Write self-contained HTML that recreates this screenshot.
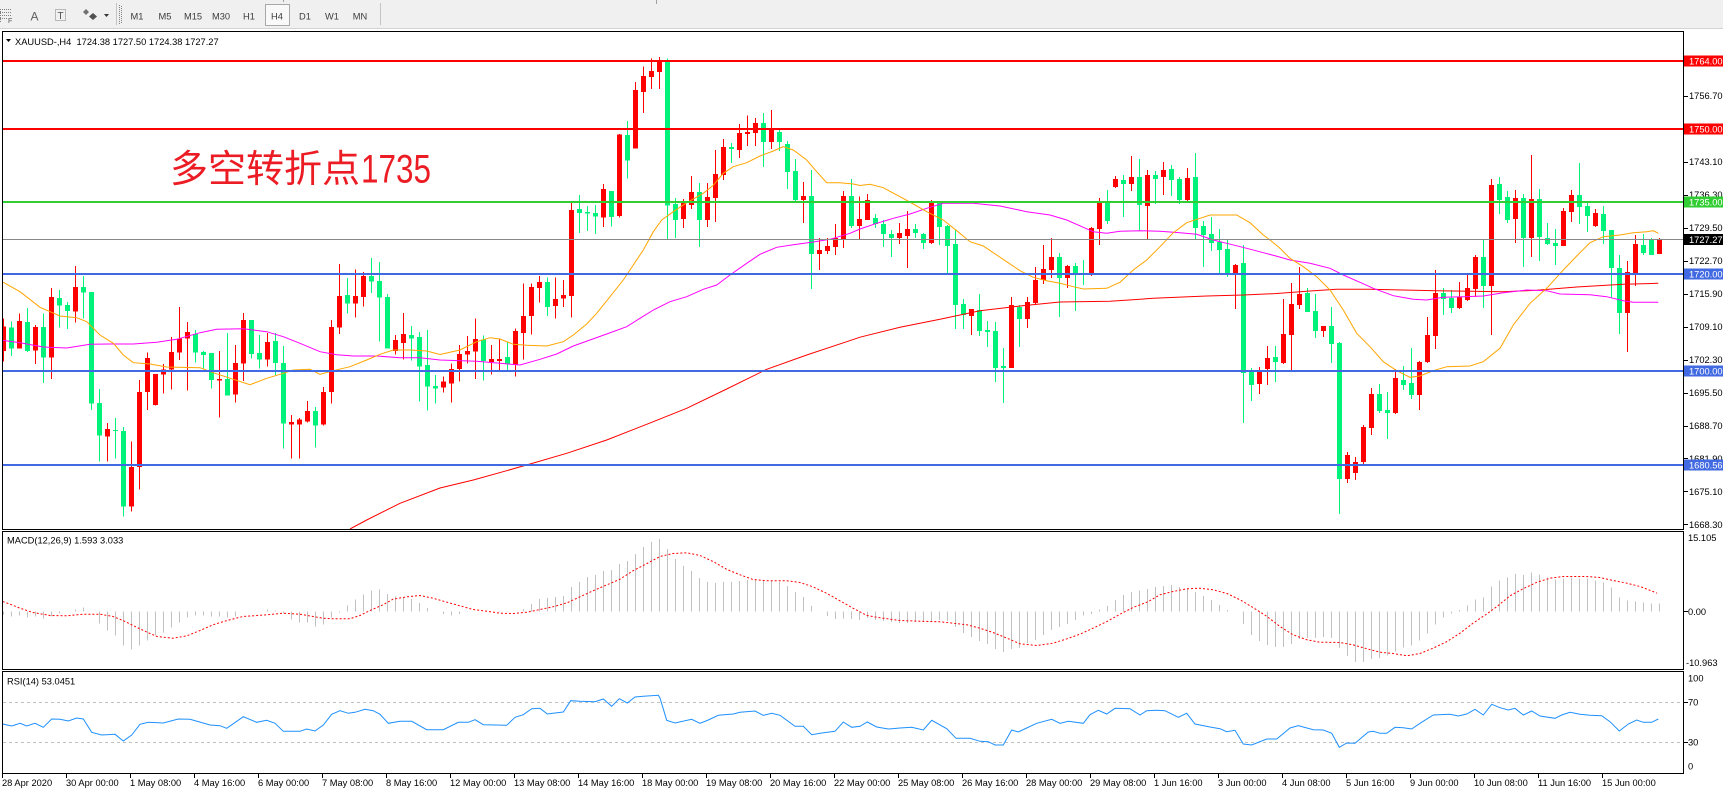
<!DOCTYPE html>
<html><head><meta charset="utf-8">
<style>
html,body{margin:0;padding:0;width:1723px;height:794px;overflow:hidden;background:#fff;}
svg{display:block;}
text{font-family:"Liberation Sans",sans-serif;}
</style></head><body>
<svg id="c" width="1723" height="794" xmlns="http://www.w3.org/2000/svg">
<defs>
<clipPath id="cpMain"><rect x="3" y="32" width="1680" height="497"/></clipPath>
<clipPath id="cpMacd"><rect x="3" y="532" width="1680" height="137"/></clipPath>
<clipPath id="cpRsi"><rect x="3" y="672" width="1680" height="101"/></clipPath>
</defs>
<rect x="0" y="0" width="1723" height="794" fill="#fff"/>
<!-- toolbar -->
<rect x="0" y="0" width="1723" height="29" fill="#f0f0f0"/>
<line x1="0" y1="28.5" x2="1723" y2="28.5" stroke="#d4d4d4"/>
<g stroke="#808080" stroke-dasharray="1,1" shape-rendering="crispEdges">
<line x1="0" y1="9.5" x2="11" y2="9.5"/><line x1="0" y1="12.5" x2="11" y2="12.5"/>
<line x1="0" y1="15.5" x2="11" y2="15.5"/><line x1="0" y1="18.5" x2="7" y2="18.5"/>
<line x1="0.5" y1="9" x2="0.5" y2="22"/>
<rect x="55.5" y="9.5" width="10" height="11" fill="none"/>
<line x1="119.5" y1="5" x2="119.5" y2="24"/><line x1="121.5" y1="6" x2="121.5" y2="24"/>
</g>
<text x="8" y="23" font-size="7" fill="#555">F</text>
<text x="30.5" y="20.5" font-size="12" fill="#606060">A</text>
<text x="57.5" y="19" font-size="10" fill="#505050">T</text>
<path d="M86 9 L89 12 L86 15 L83 12 Z" fill="#707070"/>
<path d="M93 13 L97 16.5 L93 20 L89 16.5 Z" fill="#505050"/>
<path d="M104 14 L109 14 L106.5 17 Z" fill="#333"/>
<line x1="116.5" y1="3" x2="116.5" y2="25" stroke="#c4c4c4"/>
<line x1="380.5" y1="3" x2="380.5" y2="25" stroke="#c4c4c4"/>
<line x1="283.5" y1="0" x2="283.5" y2="2" stroke="#a0a0a0"/>
<line x1="656.5" y1="0" x2="656.5" y2="4" stroke="#a0a0a0"/>
<rect x="265.5" y="4.5" width="24" height="21" fill="#f9f9f9" stroke="#a8a8a8"/>
<g font-size="9.3" fill="#3c3c3c" text-anchor="middle">
<text x="137" y="19.5">M1</text><text x="165" y="19.5">M5</text><text x="193" y="19.5">M15</text>
<text x="221" y="19.5">M30</text><text x="249" y="19.5">H1</text><text x="277" y="19.5">H4</text>
<text x="305" y="19.5">D1</text><text x="332" y="19.5">W1</text><text x="360" y="19.5">MN</text>
</g>

<!-- main panel content -->
<g clip-path="url(#cpMain)">
<g id="candles" shape-rendering="crispEdges"></g>
<polyline fill="none" stroke="#ff0000" stroke-width="1" points="350,529 366.7,520 400,503.3 440,488 473.3,480 506.7,470.7 530,464 566.7,453.3 606.7,440 646.7,424.3 686.7,408.3 726.7,389 766.7,369.3 806.7,355 846.7,341.7 860,337.2 900,327.3 940,319.3 980,310.7 1020,306 1060,302 1110,301.3 1153.3,298.3 1206.7,296 1243.3,295 1275,293.6 1310,291 1336.7,289.3 1370,289.3 1436.7,290.7 1503.3,291.7 1536.7,290.3 1576.7,287 1623.3,284.3 1658.3,283.3"/>
<polyline fill="none" stroke="#ff00ff" stroke-width="1" points="2.7,340.3 20,342.7 43.3,347 66.7,348 90,344.3 110,344 133.3,344 156.7,342.3 176.7,339.3 200,332.7 216.7,329.3 243.3,328.7 266.7,331.7 283.3,336.7 300,343.3 320,351.7 336.7,354.7 353.3,356 376.7,356 400,357.7 420,357.7 440,360 476.7,361.3 500,363.3 520,365 540,359.3 556.7,354 573.3,346 590,340 606.7,334 626.7,326.7 640,318.3 653.3,310 670,301.7 686.7,296.7 703.3,289.3 716.7,285 730,275 746.7,263.3 760,254.3 776.7,247.3 793.3,244.7 813.3,242 830,239.3 850,233.3 860,229 876.7,223.3 893.3,218.3 910,214 926.7,208.3 943.3,203.3 973.3,203.3 1000,206 1026.7,211.7 1050,215 1066.7,220 1083.3,227.3 1093.3,231.7 1106.7,233.3 1120,231.3 1140,230.7 1160,231.3 1180,232.7 1196.7,234.3 1213.3,240 1226.7,243.3 1246.7,248.3 1263.3,252.7 1276,256 1290,260 1310,263.3 1330,268.3 1343.3,275 1360,282.3 1373.3,288.3 1393.3,295.7 1413.3,299.3 1426.7,300 1443.3,297.3 1463.3,296.7 1483.3,296 1503.3,292.7 1526.7,290 1546.7,290.7 1560,294 1590,294.7 1606.7,296.7 1623.3,300.7 1633.3,302.3 1658.3,302.3"/>
<polyline fill="none" stroke="#ffa500" stroke-width="1" points="2.7,282 20,291.7 40,307.3 60,316 76.7,317.7 86.7,321.7 100,335 113.3,343.3 123.3,355 133.3,362.7 150,364 166.7,367 200,367.7 213.3,372.7 233.3,379.3 250,384.7 266.7,378.3 283.3,373.3 293.3,370 310,369.3 320,374.3 333.3,370.7 350,366.7 366.7,360 380,354.3 393.3,350 410,350 426.7,351 440,354.5 460,350 476.7,341.7 490,337.7 500,339 513.3,344.3 526.7,345.3 546.7,346 563.3,341.7 573.3,335 586.7,324 596.7,313.3 610,296.7 623.3,280 633.3,265 643.3,250 653.3,231.7 661.7,220 673.3,211.7 686.7,202.7 703.3,193.3 713.3,185.3 723.3,173.3 733.3,166.7 746.7,162.7 760,156 773.3,151 783.3,146.7 793.3,150 806.7,160 816.7,171.7 826.7,182.7 840,182.7 853.3,184 860,185.5 870,184.3 883.3,187.7 900,196.7 913.3,204 926.7,211.7 943.3,220 956.7,230.7 970,241.7 983.3,246 996.7,255 1006.7,261.7 1020,270.7 1033.3,277.3 1046.7,280.7 1060,283.3 1073.3,286.7 1083.3,289 1106.7,288.3 1120,282.3 1133.3,270 1146.7,260 1160,246.7 1173.3,232.7 1186.7,222.7 1200,218.3 1210,215 1236.7,215 1250,222.7 1263.3,235 1270,240 1280,248.3 1290,258.3 1303.3,266.7 1316.7,276.7 1330,290 1343.3,310 1356.7,333.3 1370,346.7 1383.3,361.7 1396.7,370.7 1410,377.3 1420,376 1433.3,370.7 1446.7,366.7 1470,366 1483.3,361.7 1500,348.3 1513.3,325 1530,303.3 1546.7,288.3 1563.3,270 1576.7,256 1590,242.7 1603.3,236.7 1620,235 1633.3,232.7 1646.7,231.7 1653.3,230.7 1658.3,233.3"/>
<g shape-rendering="crispEdges">
<rect x="3" y="60" width="1680" height="2" fill="#ff0000"/>
<rect x="3" y="128" width="1680" height="2" fill="#ff0000"/>
<rect x="3" y="201" width="1680" height="2" fill="#32cd32"/>
<rect x="3" y="239" width="1680" height="1" fill="#888888"/>
<rect x="3" y="273" width="1680" height="2" fill="#4169e1"/>
<rect x="3" y="370" width="1680" height="2" fill="#4169e1"/>
<rect x="3" y="464" width="1680" height="2" fill="#4169e1"/>
</g>
</g>
<text x="170" y="182" font-size="38" fill="#ec1c24" font-family="'Liberation Sans','Noto Sans CJK SC',sans-serif">多空转折点</text>
<text x="361" y="182.5" font-size="40" fill="#ec1c24" textLength="70" lengthAdjust="spacingAndGlyphs">1735</text>

<path d="M6 39 L11 39 L8.5 42 Z" fill="#000"/>
<text x="15" y="45" font-size="9.3" fill="#000">XAUUSD-,H4&#160;&#160;1724.38 1727.50 1724.38 1727.27</text>

<!-- MACD -->
<g clip-path="url(#cpMacd)">
<g id="hist" shape-rendering="crispEdges"></g>
<polyline id="sig" fill="none" stroke="#ff0000" stroke-width="1" stroke-dasharray="2,2" points=""/>
</g>
<text x="7" y="543.5" font-size="9.3" fill="#000">MACD(12,26,9) 1.593 3.033</text>

<!-- RSI -->
<g clip-path="url(#cpRsi)">
<line x1="3" y1="702.5" x2="1683" y2="702.5" stroke="#c0c0c0" stroke-dasharray="3,3"/>
<line x1="3" y1="742.5" x2="1683" y2="742.5" stroke="#c0c0c0" stroke-dasharray="3,3"/>
<polyline fill="none" stroke="#1e90ff" stroke-width="1" points="2.7,724 11.7,726 20,723.3 26.7,726 35,723.3 43.3,727.3 51.7,719 60,719.3 68.3,721 76.7,718 83.3,719 91.7,732.3 101.7,735 115,734.3 123.3,741 131.7,735 140,724.3 148.3,722.3 163.3,723 178.3,719 190,719.3 210,725 220,725.7 226.7,728.3 243.3,716.7 256.7,722.3 266.7,720.3 275,723.3 283.3,731.3 300,731.3 306.7,729 315,731 323.3,725 331.7,714.3 340,710.7 348.3,713.3 355,712.3 365,709.3 373.3,710.7 380,714.3 388.3,723.3 400,721.3 411.7,721.3 426.7,729.7 443.3,729.7 458.3,722.3 468.3,722.3 475,719.7 483.3,724.7 506.7,725.3 515,717.3 523.3,714.7 531.7,708.7 540,708.3 547.3,714 555,713 563.3,712 570.7,700.7 580,701.3 595,701.7 603.3,699 611.7,706.3 619.3,698.7 627.3,703 635,697 643.3,696.3 658.3,695.3 660,698 666.7,720.3 675,723 691.7,719.3 700,723.3 708.3,720 718.3,715.3 733.3,714 740,712.3 755,711 763.3,715.3 771.7,713.3 780,715.3 795,726.3 803.3,726.3 811.7,734.7 821.7,733 835,731.3 843.3,722 851.7,727.3 860,726.3 867.3,722 876.7,727 888.3,729 900,728 911.7,727.3 923.3,730 931.7,720.3 946.7,728.7 956,738.3 970,738.3 980,741.3 988.3,741.7 995,745 1003.3,745 1011.7,730 1018.3,732 1026.7,728 1036.7,723.3 1051.7,719.3 1060,723.3 1068.3,721.3 1083.3,723.3 1090,714.7 1098.3,710.3 1106.7,714 1115,708.3 1130,708.7 1140,715 1146.7,710.7 1156.7,710.3 1165,710.7 1178.3,717.3 1186.7,713.3 1195,724 1210,727 1220,728.7 1226.7,731.7 1235,730.3 1243.3,744 1251.7,745 1266.7,739 1276.7,739 1290,728 1298.3,725.7 1313.3,729.7 1323.3,730 1331.7,733.3 1339.3,747.3 1346.7,743 1355,743.3 1368.3,732 1373.3,731.3 1380,733.3 1386.7,733.3 1395,727.3 1403.3,727.7 1411.7,729 1420,723.3 1433.3,715 1450,714.3 1458.3,716 1466.7,714 1475,709.3 1483.3,715 1491.7,704.3 1500,707.7 1508.3,710 1515,708.3 1523.3,715 1531.7,711 1540,716 1555,718.3 1561.7,715 1570,712.3 1580,714.3 1590,715.3 1601.7,715.7 1610,721.7 1619.3,731 1628.3,724 1636.7,720 1643.3,722.3 1651.7,722.3 1658.3,719"/>
</g>
<text x="7" y="684.5" font-size="9.3" fill="#000">RSI(14) 53.0451</text>

<!-- panel borders -->
<g fill="none" stroke="#000" stroke-width="1" shape-rendering="crispEdges">
<rect x="2.5" y="31.5" width="1681" height="498"/>
<rect x="2.5" y="531.5" width="1681" height="138"/>
<rect x="2.5" y="671.5" width="1681" height="102"/>
</g>

<!-- price axis -->
<g id="axis" font-size="9.3" fill="#000"></g>
<g id="taxis" font-size="9.3" fill="#000"></g>
</svg>
<script>
(function(){
var NS='http://www.w3.org/2000/svg';
function mk(p,tag,a,txt){var e=document.createElementNS(NS,tag);for(var k in a)e.setAttribute(k,a[k]);if(txt!==undefined)e.textContent=txt;p.appendChild(e);return e;}
var G=document.getElementById('candles');
function draw(arr,start,off){
 for(var j=0;j<arr.length/5;j++){
  var i=start+j;var c=arr[5*j]?'#ff0000':'#00f27a';
  var h=off+arr[5*j+1]/3,t=off+arr[5*j+2]/3,b=off+arr[5*j+3]/3,l=off+arr[5*j+4]/3;
  var x=8*i+1;
  mk(G,'rect',{x:x+2,y:h.toFixed(1),width:1,height:Math.max(1,l-h).toFixed(1),fill:c});
  mk(G,'rect',{x:x,y:t.toFixed(1),width:5,height:Math.max(1,b-t).toFixed(1),fill:c});
 }
}
var Z6=[1,295,320,393,425,0,305,323,386,408,1,280,303,386,386,0,264,306,393,396,1,315,321,392,432,0,280,321,413,489,1,204,231,413,477,0,210,234,257,323,0,246,255,273,327,1,138,201,275,308,0,168,201,218,296,0,216,216,551,570,0,507,549,647,725,1,609,627,650,725,0,594,630,633,716,0,621,633,860,890,1,665,741,860,875,1,480,516,741,808,1,397,414,516,570,1,462,462,555,557,1,432,448,464,521,1,351,396,448,509,1,261,355,398,420,1,306,336,356,512,0,330,342,398,428,0,393,396,405,446,0,399,399,480,506,1,393,477,482,593,0,339,477,527,527,1,375,429,524,548,1,279,300,431,483,0,300,300,402,416,0,345,399,419,446,1,339,366,419,440,0,339,363,429,465,0,378,429,611,686,1,585,606,614,716,1,594,599,614,716,1,543,573,605,608,0,561,573,617,683,1,501,516,614,617,1,300,321,516,551,1,132,228,323,342,0,174,225,251,281,1,149,228,251,293,1,156,168,231,260,0,114,168,185,219,0,126,183,233,365,0,222,231,386,386,1,345,360,393,403,1,279,342,369,418,0,318,345,355,422,0,336,351,440,545,0,330,435,500,572,0,465,498,506,551];
var Z7=[1,1010,1025,1043,1058,1,970,987,1031,1088,1,915,942,987,1025,1,888,933,944,970,1,836,897,935,1017,0,887,899,963,1022,1,915,957,966,1004,1,898,957,963,990,0,908,951,972,990,1,865,873,975,1010,1,731,828,879,958,1,731,741,828,884,1,708,726,744,788,0,712,726,801,828,1,713,777,798,836,1,720,765,775,801,1,485,510,768,833,0,465,507,519,579,0,498,516,521,573,0,495,519,530,582,1,432,447,533,561,0,453,453,531,560,1,282,284,528,533,0,243,285,362,416,1,126,150,326,326,1,80,108,156,219,1,55,93,111,147,1,51,63,96,147,0,55,63,497,597,0,474,492,540,594,1,477,486,537,564,1,408,456,495,507,0,429,456,540,621,1,429,471,540,561,1,330,402,474,546,1,297,321,405,420,0,309,321,327,369,1,252,279,330,354,1,227,276,282,318,1,234,249,279,318,0,219,249,306,381,1,210,267,306,327,0,270,276,306,333,0,303,312,396,447,0,357,393,480,483,1,426,468,480,549,0,390,468,642,747,1,594,630,642,690,1,594,618,633,642,1,552,594,621,645,1,453,468,600,624,0,417,468,558,564];
var Z8=[1,470,537,558,600,1,462,480,540,540,0,522,534,552,564,0,540,552,582,621,0,570,582,594,651,1,549,579,594,612,1,513,567,588,684,0,552,567,579,594,0,579,582,609,627,1,480,486,609,612,0,486,489,561,615,0,555,558,618,702,0,570,612,795,867,0,777,792,825,867,1,807,807,828,885,0,762,810,873,888,0,843,870,876,921,0,846,873,984,1026,0,924,978,984,1089,1,771,795,984,984,0,795,801,837,921,1,771,786,837,864,1,681,720,789,795,1,615,687,720,732,1,594,651,690,714,0,639,651,714,831,1,675,678,714,744,0,669,678,699,813,0,660,699,701,735,1,561,564,702,708,1,474,486,567,615,0,450,486,543,552,1,408,417,441,444,0,405,420,432,531,1,348,411,432,453,0,357,411,495,570,1,390,405,498,597,0,393,405,417,492,1,366,390,411,465,0,375,387,420,468,0,411,417,480,492,1,384,414,480,483,0,339,411,564,597,0,543,558,585,681,0,531,582,609,633,0,567,606,630,699,0,600,627,702,711,1,672,675,699,807,0,615,669,999,1149,0,984,993,1035,1083,1,981,996,1032,1062,1,918,954,987,1035,0,918,951,966,1026];
var Z9=[1,777,882,969,972,1,729,792,885,990,1,681,762,795,807,0,744,759,816,816,0,762,813,873,894,1,858,858,873,891,0,801,858,912,969,0,906,909,1317,1422,1,1236,1245,1317,1329,1,1251,1266,1299,1320,1,1155,1161,1266,1272,1,1044,1062,1164,1185,0,1032,1062,1113,1119,0,1056,1110,1119,1197,1,987,1014,1119,1122,0,978,1020,1035,1050,0,924,1029,1065,1077,1,963,966,1065,1110,1,831,885,966,969,1,690,759,888,927,0,744,759,777,825,0,750,774,804,819,1,726,771,804,807,1,705,744,780,783,1,645,651,747,771,0,600,651,738,804,1,417,435,738,885,0,411,432,480,522,0,453,471,540,549,1,450,474,537,609,0,462,474,594,681,1,345,477,594,651,0,447,477,591,663,0,549,594,612,615,0,567,609,618,675,1,504,513,618,618,1,450,465,516,546,0,369,465,501,552,0,486,498,528,576,1,507,519,558,561,0,498,522,573,612,0,570,570,684,774,0,645,684,819,882,1,663,696,819,936,1,585,612,699,738,0,582,615,639,645,0,594,597,645,645,1,594,597,642,642];
draw(Z6,0,220);draw(Z7,55,40);draw(Z8,107,40);draw(Z9,160,40);

// MACD histogram
var H=[-3,-5,-4,-6,-5,-7,-5,-2,0,2,4,0,-12,-19,-24,-34,-38,-34,-29,-24,-21,-16,-11,-6,-4,-4,-5,-5,-6,-5,0,0,0,2,1,-2,-8,-11,-11,-15,-13,-6,-1,6,12,17,21,22,17.5,15,14,12.7,8.3,3.3,0,-2.7,-4,-2.7,-0.7,0,0,0,0.7,0.7,0,2.7,7.3,12.7,13.3,14.3,15.3,24.3,29.3,34.3,36.3,40.3,41.3,47.3,50.3,57.3,64.3,69.3,72.3,62.3,52.3,45.3,40.3,33.3,29.3,28.3,29.3,29.3,30.3,31.3,32.3,31.3,30.3,29.3,25.3,19.3,14.3,5.3,0,-4.7,-7.3,-7,-7.3,-8.7,-6.7,-8.7,-9.7,-10.7,-11.7,-11.7,-10.7,-10.7,-10.7,-8.7,-9.7,-15.7,-21.7,-25.7,-29.7,-32.7,-37.7,-40.7,-37.7,-36.7,-31.7,-28.7,-23.7,-18.7,-15.7,-12.7,-8.7,-4,-2.7,2,5.3,11.3,16.3,19.3,21,22.3,24.3,25.3,26.3,24.3,23.3,19.3,15.3,11.3,6.3,1.3,0,-12.7,-23.7,-29.7,-33.7,-35.7,-35.7,-32.7,-27.7,-26.7,-26.7,-25.7,-26.7,-36.7,-44.7,-50.7,-50.7,-47.7,-46.7,-44,-40,-36,-34,-29,-22,-13,-6,-2,1.7,6,12,14,25,31,34,37.7,36.7,39,37,34,32,33,34,33,33,31,29,24,14,11,10,9,8,8];
var HG=document.getElementById('hist');var Y0=611.5;
for(var i=0;i<H.length;i++){var d=H[i];if(Math.abs(d)<0.5)continue;
 mk(HG,'rect',{x:8*i+3,y:(d>0?Y0-d:Y0).toFixed(1),width:1,height:Math.abs(d).toFixed(1),fill:'#c0c0c0'});}
var S=[2.7,10,11.7,6.7,20,3.3,33,-1,50,-4,67,-4.3,83,-2.7,100,-2.7,113,-5,123,-9,133,-14,147,-20.7,157,-25,173,-26.7,187,-24.3,200,-19,213,-13.3,227,-9,243,-5,267,-3.3,283,-1.7,300,-2.7,313,-5,323,-6.7,333,-7.3,350,-7.3,360,-4,370,1,383,6.7,393,12.3,407,14.7,420,16,433,13.3,447,9.3,460,5.7,473,2,487,0.3,500,-1.7,513,-2,527,-0.7,540,2,553,4.7,567,8.7,580,14.7,593,20.7,607,26.7,620,32.3,633,40.7,647,48,660,55,673,58,687,58.7,700,56,713,50,727,42,740,36.7,753,32,767,30.7,787,30.7,800,29,813,24.7,827,18,840,10.7,853,3.3,867,-4,880,-6.3,900,-9,920,-9.7,940,-10.3,953,-11.7,967,-13.3,980,-16.7,993,-21,1007,-26.7,1020,-32.3,1037,-34,1053,-31.7,1067,-27.3,1080,-22.7,1093,-16.7,1107,-10,1120,-2.7,1133,4,1147,9.3,1160,16.7,1173,20,1187,22.7,1200,23.3,1213,21.7,1227,18,1240,11.7,1253,4,1267,-5,1280,-15,1293,-23.3,1307,-28.3,1320,-30.7,1340,-31,1353,-33.3,1367,-37.3,1380,-40.7,1393,-42,1407,-44.3,1420,-42,1433,-36.7,1447,-30,1460,-21.7,1473,-11.7,1487,-2.3,1497,5,1510,15.7,1523,22.7,1537,29.3,1550,33.3,1563,35,1587,35,1600,34,1613,31,1627,28.3,1640,25,1653,20,1657,18.3];
var pts='';for(var k=0;k<S.length;k+=2)pts+=S[k]+','+(Y0-S[k+1]).toFixed(1)+' ';
document.getElementById('sig').setAttribute('points',pts);

// price axis
var A=document.getElementById('axis');
var ticks=[1763.5,1756.7,1749.9,1743.1,1736.3,1729.5,1722.7,1715.9,1709.1,1702.3,1695.5,1688.7,1681.9,1675.1,1668.3];
for(var t=0;t<ticks.length;t++){var p=ticks[t];var y=273.7+(1720-p)*4.85;
 mk(A,'rect',{x:1684,y:Math.round(y),width:4,height:1,fill:'#000'});
 mk(A,'text',{x:1689,y:(y+3.4).toFixed(1)},p.toFixed(2));}
var boxes=[[61,'1764.00','#ff0000'],[129,'1750.00','#ff0000'],[202,'1735.00','#32cd32'],[239.5,'1727.27','#000000'],[274,'1720.00','#4169e1'],[371,'1700.00','#4169e1'],[465,'1680.56','#4169e1']];
for(var b=0;b<boxes.length;b++){var bx=boxes[b];
 mk(A,'rect',{x:1684,y:bx[0]-5.5,width:39,height:11,fill:bx[2]});
 mk(A,'text',{x:1689,y:(bx[0]+3.4).toFixed(1),fill:'#fff'},bx[1]);}
var side=[[537.5,'15.105',1688],[611.7,'0.00',1688],[662.7,'-10.963',1686],[678.3,'100',1688],[702.3,'70',1688],[742.3,'30',1688],[766,'0',1688]];
for(var s=0;s<side.length;s++){mk(A,'text',{x:side[s][2],y:(side[s][0]+3.4).toFixed(1)},side[s][1]);}
mk(A,'rect',{x:1684,y:611,width:4,height:1,fill:'#000'});
mk(A,'rect',{x:1684,y:702,width:4,height:1,fill:'#000'});
mk(A,'rect',{x:1684,y:742,width:4,height:1,fill:'#000'});

// time axis
var T=document.getElementById('taxis');
var labs=["28 Apr 2020","30 Apr 00:00","1 May 08:00","4 May 16:00","6 May 00:00","7 May 08:00","8 May 16:00","12 May 00:00","13 May 08:00","14 May 16:00","18 May 00:00","19 May 08:00","20 May 16:00","22 May 00:00","25 May 08:00","26 May 16:00","28 May 00:00","29 May 08:00","1 Jun 16:00","3 Jun 00:00","4 Jun 08:00","5 Jun 16:00","9 Jun 00:00","10 Jun 08:00","11 Jun 16:00","15 Jun 00:00"];
for(var q=0;q<labs.length;q++){var tx=64*q+2;
 mk(T,'rect',{x:tx,y:774,width:1,height:4,fill:'#000'});
 mk(T,'text',{x:tx,y:785.8},labs[q]);}
})();
</script>
</body></html>
